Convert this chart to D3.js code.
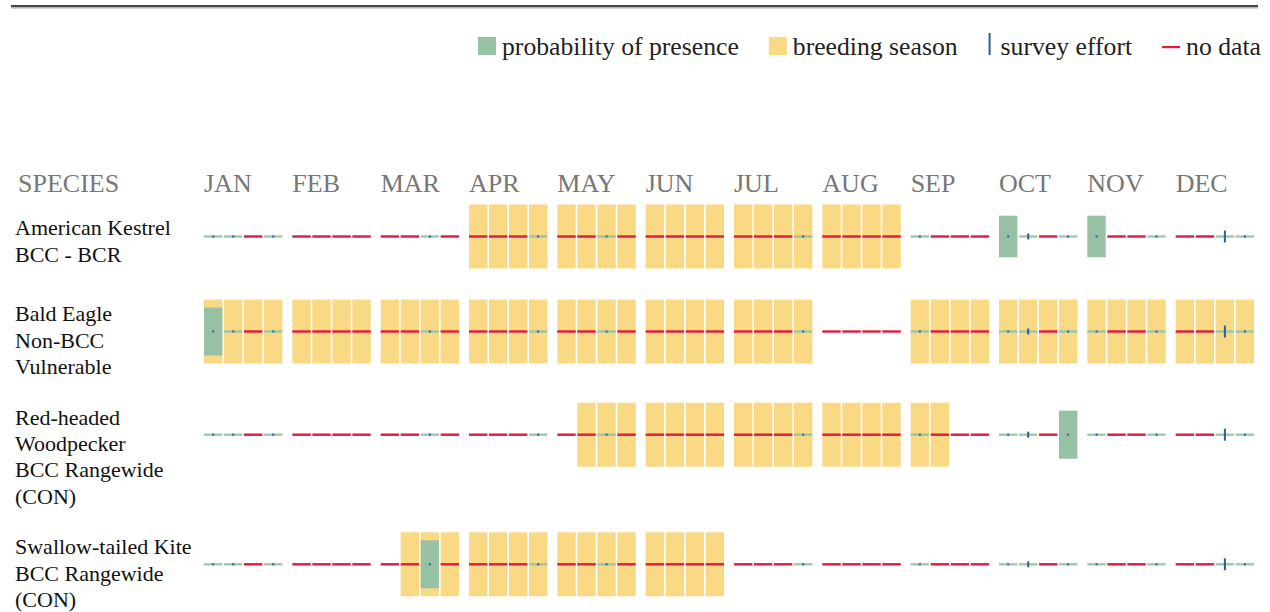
<!DOCTYPE html>
<html lang="en">
<head>
    <meta charset="UTF-8">
    <title>Probability of presence</title>
    <script src="https://d3js.org/d3.v7.min.js"></script>
    <style>
        body { margin: 0; background: #fff; }
        text { font-family: 'Liberation Serif', 'Times New Roman', serif; }
        .head { font-size: 26px; fill: #777; }
        .species { font-size: 22px; fill: #111; }
        .legend { font-size: 25.7px; fill: #222; }
    </style>
</head>
<body>
<script>
    const width = 1270;
    const height = 612;

    const months = ["JAN", "FEB", "MAR", "APR", "MAY", "JUN", "JUL", "AUG", "SEP", "OCT", "NOV", "DEC"];
    const weeks = [0, 1, 2, 3];

    const speciesLabels = [
        ["American Kestrel", "BCC - BCR"],
        ["Bald Eagle", "Non-BCC", "Vulnerable"],
        ["Red-headed", "Woodpecker", "BCC Rangewide", "(CON)"],
        ["Swallow-tailed Kite", "BCC Rangewide", "(CON)"]
    ];

    // survey effort per week (0 = no data), same for every species
    const surveyEffort = [
        1, 1, 0, 1,   0, 0, 0, 0,   0, 0, 1, 0,   0, 0, 0, 1,
        0, 0, 1, 0,   0, 0, 0, 0,   0, 0, 0, 1,   0, 0, 0, 0,
        1, 0, 0, 0,   1, 3, 0, 1,   1, 0, 0, 1,   0, 0, 6, 1
    ];

    // breeding season as [first week, last week] ranges
    const breedingRanges = [
        [[12, 31]],
        [[0, 27], [32, 47]],
        [[17, 33]],
        [[9, 23]]
    ];

    // probability of presence as [week, value out of 10]
    const presence = [
        [[36, 6.5], [40, 6.5]],
        [[0, 7.5]],
        [[39, 7.5]],
        [[10, 7.5]]
    ];

    const colors = {
        presence: "#96c1a3",
        breeding: "#fad985",
        effort: "#2d5e98",
        nodata: "#e2193d",
        line: "#94c3a6"
    };

    const svg = d3.select("body").append("svg").attr("width", width).attr("height", height);

    // top rule
    svg.append("rect").attr("x", 11).attr("y", 5).attr("width", 1247).attr("height", 2.4).attr("fill", "#474747");
    svg.append("rect").attr("x", 11).attr("y", 7.4).attr("width", 1247).attr("height", 1.2).attr("fill", "#b5b5b5");

    // legend
    const legend = svg.append("g");
    let lx = 478;
    const ly = 55;
    const items = [
        {label: "probability of presence", type: "box", color: colors.presence},
        {label: "breeding season", type: "box", color: colors.breeding},
        {label: "survey effort", type: "tick", color: colors.effort},
        {label: "no data", type: "dash", color: colors.nodata}
    ];
    items.forEach(it => {
        if (it.type === "box") {
            legend.append("rect").attr("x", lx).attr("y", ly - 18).attr("width", 18).attr("height", 18).attr("fill", it.color);
            lx += 24;
        } else if (it.type === "tick") {
            legend.append("rect").attr("x", lx + 1).attr("y", ly - 22).attr("width", 2).attr("height", 22).attr("fill", it.color);
            lx += 13;
        } else {
            legend.append("rect").attr("x", lx).attr("y", ly - 9).attr("width", 18).attr("height", 2.2).attr("fill", it.color);
            lx += 24;
        }
        const t = legend.append("text").attr("class", "legend").attr("x", lx).attr("y", ly).text(it.label);
        lx += t.node().getComputedTextLength() + 30;
    });

    // scales
    const x = d3.scaleBand().domain(months).range([204, 1264]);
    const xw = d3.scaleBand().domain(weeks).range([0, 78.4]).paddingInner(0.08);
    const weekX = i => x(months[Math.floor(i / 4)]) + xw(i % 4);
    const barH = 64;
    const yProb = d3.scaleLinear().domain([0, 10]).range([0, barH]);
    const yEffort = d3.scaleLinear().domain([0, 6]).range([0, 12]);

    // header
    svg.append("text").attr("class", "head").attr("x", 18).attr("y", 192).text("SPECIES");
    svg.selectAll("text.month")
        .data(months)
        .enter()
        .append("text")
        .attr("class", "head month")
        .attr("x", d => x(d))
        .attr("y", 192)
        .text(d => d);

    // rows
    const lineH = 26.4;
    const minBlock = 71;
    const rowGap = 24;
    let rowTop = 204.5;

    speciesLabels.forEach((lines, s) => {
        const labelH = lines.length * lineH;
        const blockH = Math.max(labelH, minBlock);
        const cy = rowTop + barH / 2;
        const g = svg.append("g");

        const labelTop = rowTop + (blockH - labelH) / 2;
        g.selectAll("text")
            .data(lines)
            .enter()
            .append("text")
            .attr("class", "species")
            .attr("x", 15)
            .attr("y", (d, i) => labelTop + 2.2 + 19.6 + i * lineH)
            .text(d => d);

        const weekData = surveyEffort.map((e, i) => ({
            i: i,
            effort: e,
            breeding: breedingRanges[s].some(r => i >= r[0] && i <= r[1]),
            prob: (presence[s].find(p => p[0] === i) || [i, 0])[1]
        }));

        g.selectAll("rect.breed")
            .data(weekData.filter(d => d.breeding))
            .enter()
            .append("rect")
            .attr("class", "breed")
            .attr("x", d => weekX(d.i))
            .attr("y", rowTop)
            .attr("width", xw.bandwidth())
            .attr("height", barH)
            .attr("fill", colors.breeding);

        g.selectAll("rect.prob")
            .data(weekData.filter(d => d.prob > 0))
            .enter()
            .append("rect")
            .attr("class", "prob")
            .attr("x", d => weekX(d.i))
            .attr("y", d => cy - yProb(d.prob) / 2)
            .attr("width", xw.bandwidth())
            .attr("height", d => yProb(d.prob))
            .attr("fill", colors.presence);

        g.selectAll("rect.line")
            .data(weekData.filter(d => d.prob === 0))
            .enter()
            .append("rect")
            .attr("class", "line")
            .attr("x", d => weekX(d.i))
            .attr("y", cy - 1.2)
            .attr("width", xw.bandwidth())
            .attr("height", 2.4)
            .attr("fill", d => d.effort > 0 ? colors.line : colors.nodata)
            .attr("opacity", d => d.effort > 0 ? 0.9 : 1);

        g.selectAll("rect.effort")
            .data(weekData.filter(d => d.effort > 0))
            .enter()
            .append("rect")
            .attr("class", "effort")
            .attr("x", d => weekX(d.i) + xw.bandwidth() / 2 - 1)
            .attr("y", d => cy - yEffort(d.effort) / 2)
            .attr("width", 2)
            .attr("height", d => yEffort(d.effort))
            .attr("fill", colors.effort);

        rowTop += blockH + rowGap;
    });
</script>
</body>
</html>
